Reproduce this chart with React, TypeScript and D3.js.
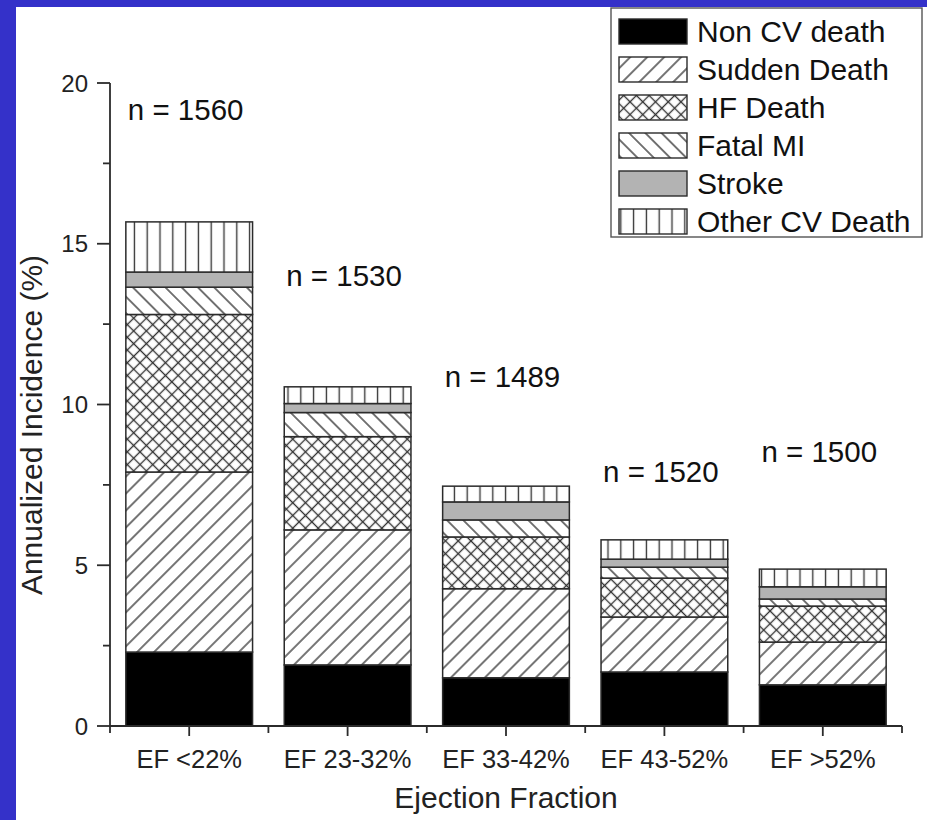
import React from 'react';
import * as d3 from 'd3';

// values (annualized incidence, %)
const categories = ['EF <22%', 'EF 23-32%', 'EF 33-42%', 'EF 43-52%', 'EF >52%'];
const nCounts = [1560, 1530, 1489, 1520, 1500];
const nLabelY = [18.85, 13.7, 10.55, 7.6, 8.2];

const seriesNames = ['Non CV death', 'Sudden Death', 'HF Death', 'Fatal MI', 'Stroke', 'Other CV Death'];
const nonCvDeath = [2.3, 1.9, 1.5, 1.68, 1.28];
const suddenDeath = [5.6, 4.2, 2.77, 1.71, 1.33];
const hfDeath = [4.9, 2.9, 1.61, 1.21, 1.12];
const fatalMI = [0.85, 0.75, 0.53, 0.34, 0.22];
const stroke = [0.47, 0.28, 0.56, 0.25, 0.38];
const otherCvDeath = [1.56, 0.52, 0.49, 0.6, 0.55];

const yTicks = [0, 5, 10, 15, 20];
const yMinorTicks = [2.5, 7.5, 12.5, 17.5];

const W = 927;
const H = 820;
const FONT = '"Liberation Sans", Arial, Helvetica, sans-serif';
const INK = '#2b2b2b';

const fills = ['#000', 'url(#pSudden)', 'url(#pHF)', 'url(#pFatal)', '#b3b3b3', 'url(#pOther)'];

const App = () => {
  const seriesValues = [nonCvDeath, suddenDeath, hfDeath, fatalMI, stroke, otherCvDeath];
  const table = categories.map((c, i) => {
    const row: any = { category: c };
    seriesNames.forEach((s, j) => { row[s] = seriesValues[j][i]; });
    return row;
  });
  const stacked = d3.stack().keys(seriesNames)(table);

  const x = d3.scaleBand().domain(categories).range([110, 902]).paddingInner(0.2).paddingOuter(0.1);
  const y = d3.scaleLinear().domain([0, 20]).range([726, 83]);
  const step = x.step();
  const bounds = d3.range(categories.length + 1).map(i => 110 + i * step);

  const legendRows = seriesNames.map((s, i) => ({ s, cy: 31.5 + i * 38 }));

  return (
    <svg width={W} height={H} style={{ position: 'absolute', left: 0, top: 0, display: 'block' }}>
      <defs>
        <pattern id="pSudden" patternUnits="userSpaceOnUse" width={12} height={12} patternTransform="rotate(45)">
          <rect width={12} height={12} fill="#fff" />
          <line x1={6} y1={0} x2={6} y2={12} stroke="#333" strokeWidth={1.35} />
        </pattern>
        <pattern id="pFatal" patternUnits="userSpaceOnUse" width={11.5} height={11.5} patternTransform="rotate(-45)">
          <rect width={11.5} height={11.5} fill="#fff" />
          <line x1={5.75} y1={0} x2={5.75} y2={11.5} stroke="#333" strokeWidth={1.35} />
        </pattern>
        <pattern id="pHF" patternUnits="userSpaceOnUse" width={9} height={9} patternTransform="rotate(45)">
          <rect width={9} height={9} fill="#fff" />
          <line x1={4.5} y1={0} x2={4.5} y2={9} stroke="#333" strokeWidth={1.35} />
          <line x1={0} y1={4.5} x2={9} y2={4.5} stroke="#333" strokeWidth={1.35} />
        </pattern>
        <pattern id="pOther" patternUnits="userSpaceOnUse" width={12.8} height={10}>
          <rect width={12.8} height={10} fill="#fff" />
          <line x1={6.4} y1={0} x2={6.4} y2={10} stroke="#333" strokeWidth={1.35} />
        </pattern>
      </defs>

      <rect x={0} y={0} width={W} height={H} fill="#3431c9" />
      <rect x={16} y={7} width={W - 16} height={H - 7} fill="#fff" />

      {/* stacked bars */}
      {stacked.map((layer, j) => (
        <g key={layer.key}>
          {layer.map((d, i) => (
            <rect
              key={i}
              x={x(categories[i])}
              y={y(d[1])}
              width={x.bandwidth()}
              height={y(d[0]) - y(d[1])}
              fill={fills[j]}
              stroke={INK}
              strokeWidth={1.5}
            />
          ))}
        </g>
      ))}

      {/* n labels */}
      {categories.map((c, i) => (
        <text key={c} x={(x(c) as number) + 2} y={y(nLabelY[i])} fontFamily={FONT} fontSize={29.5} fill="#111">
          {`n = ${nCounts[i]}`}
        </text>
      ))}

      {/* y axis */}
      <g stroke={INK} strokeWidth={1.8}>
        <line x1={110} x2={110} y1={y(20)} y2={y(0)} />
        {yTicks.map(t => <line key={t} x1={97} x2={110} y1={y(t)} y2={y(t)} />)}
        {yMinorTicks.map(t => <line key={t} x1={103} x2={110} y1={y(t)} y2={y(t)} />)}
      </g>
      {yTicks.map(t => (
        <text key={t} x={88} y={y(t)} dy="0.36em" textAnchor="end" fontFamily={FONT} fontSize={24} fill="#222">
          {t}
        </text>
      ))}

      {/* x axis */}
      <g stroke={INK} strokeWidth={1.8}>
        <line x1={110} x2={902} y1={y(0)} y2={y(0)} />
        {categories.map(c => {
          const cx = (x(c) as number) + x.bandwidth() / 2;
          return <line key={c} x1={cx} x2={cx} y1={y(0)} y2={y(0) + 10} />;
        })}
        {bounds.map((b, i) => <line key={i} x1={b} x2={b} y1={y(0)} y2={y(0) + 7} />)}
      </g>
      {categories.map(c => (
        <text key={c} x={(x(c) as number) + x.bandwidth() / 2} y={768} textAnchor="middle" fontFamily={FONT} fontSize={25.5} fill="#222">
          {c}
        </text>
      ))}

      <text x={506} y={808} textAnchor="middle" fontFamily={FONT} fontSize={30} fill="#222">Ejection Fraction</text>
      <text transform="translate(42,425) rotate(-90)" textAnchor="middle" fontFamily={FONT} fontSize={30} fill="#222">
        Annualized Incidence (%)
      </text>

      {/* legend */}
      <rect x={611} y={8} width={311} height={229} fill="#fff" stroke="#555" strokeWidth={1.4} />
      {legendRows.map((r, i) => (
        <g key={r.s}>
          <rect x={619} y={r.cy - 12.5} width={68} height={25} fill={fills[i]} stroke={INK} strokeWidth={1.4} />
          <text x={697} y={r.cy} dy="0.36em" fontFamily={FONT} fontSize={30} fill="#111">{r.s}</text>
        </g>
      ))}
    </svg>
  );
};

export default App;
